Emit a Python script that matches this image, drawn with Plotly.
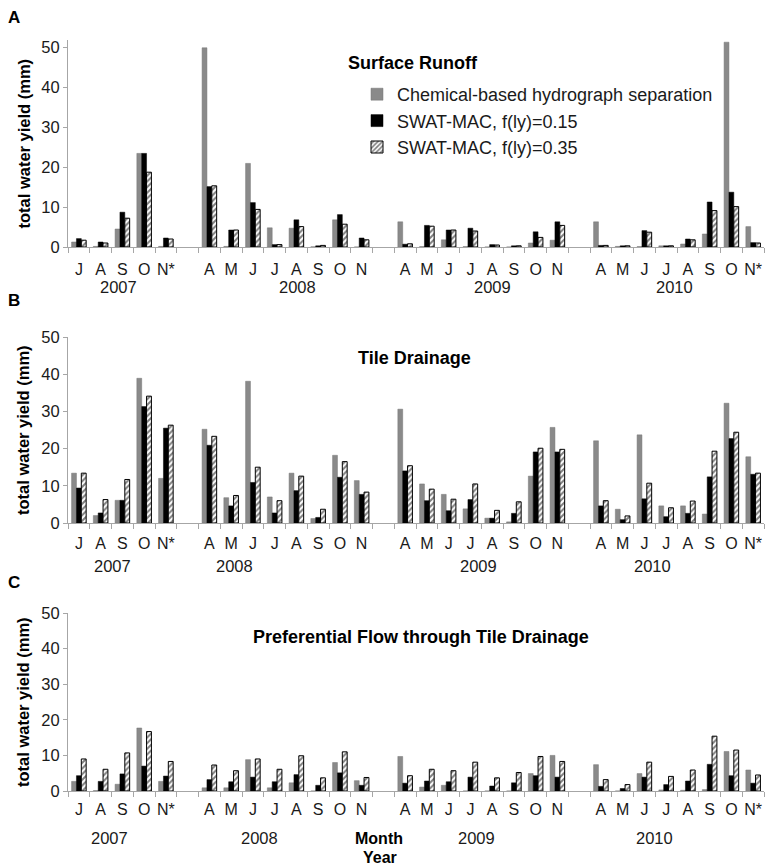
import plotly.graph_objects as go

W, H = 765, 865

years = ["2007", "2008", "2009", "2010"]
months_by_year = [
    ["J", "A", "S", "O", "N*"],
    ["A", "M", "J", "J", "A", "S", "O", "N"],
    ["A", "M", "J", "J", "A", "S", "O", "N"],
    ["A", "M", "J", "J", "A", "S", "O", "N*"],
]

series_names = [
    "Chemical-based hydrograph separation",
    "SWAT-MAC, f(ly)=0.15",
    "SWAT-MAC, f(ly)=0.35",
]

# Panel A: Surface Runoff
chem_A = [1.25, 0.15, 4.5, 23.4, 0.15,
          49.8, 0.15, 20.9, 4.8, 4.7, 0.05, 6.8, 0.0,
          6.3, 0.1, 1.8, 0.1, 0.0, 0.0, 1.0, 1.7,
          6.3, 0.15, 0.1, 0.3, 0.75, 3.25, 51.2, 5.1]
swat15_A = [2.1, 1.25, 8.7, 23.4, 2.25,
            15.1, 4.25, 11.1, 0.6, 6.8, 0.3, 8.1, 2.25,
            0.7, 5.4, 4.25, 4.7, 0.6, 0.3, 3.8, 6.3,
            0.4, 0.3, 4.1, 0.3, 2.0, 11.25, 13.7, 1.1]
swat35_A = [1.7, 1.0, 7.2, 18.7, 2.0,
            15.3, 4.25, 9.4, 0.6, 5.1, 0.4, 5.7, 1.8,
            0.8, 5.2, 4.25, 4.0, 0.5, 0.3, 2.4, 5.4,
            0.4, 0.3, 3.7, 0.3, 1.8, 9.1, 10.1, 1.0]

# Panel B: Tile Drainage
chem_B = [13.4, 2.0, 6.1, 38.9, 12.0,
          25.2, 6.8, 38.1, 7.0, 13.4, 1.2, 18.2, 11.4,
          30.6, 10.5, 7.7, 3.8, 1.3, 0.3, 12.6, 25.7,
          22.1, 3.7, 23.7, 4.6, 4.6, 2.4, 32.2, 17.8]
swat15_B = [9.4, 2.7, 6.1, 31.3, 25.5,
            20.9, 4.6, 10.9, 2.7, 8.7, 1.5, 12.3, 7.7,
            14.0, 6.0, 3.3, 6.3, 1.3, 2.6, 19.1, 19.1,
            4.6, 0.9, 6.5, 1.7, 2.6, 12.4, 22.7, 13.1]
swat35_B = [13.4, 6.3, 11.7, 34.1, 26.3,
            23.3, 7.4, 15.0, 6.0, 12.6, 3.7, 16.5, 8.3,
            15.4, 9.1, 6.4, 10.5, 3.4, 5.7, 20.1, 19.8,
            6.0, 1.9, 10.7, 4.1, 5.9, 19.3, 24.4, 13.4]

# Panel C: Preferential Flow through Tile Drainage
chem_C = [2.7, 0.1, 1.9, 17.7, 2.7,
          0.9, 0.9, 8.8, 0.9, 2.3, 0.0, 8.0, 2.9,
          9.7, 1.1, 1.6, 0.0, 0.0, 0.0, 4.9, 10.0,
          7.4, 0.0, 4.9, 0.3, 0.2, 0.4, 11.1, 5.9]
swat15_C = [4.3, 2.7, 4.8, 7.0, 4.2,
            3.2, 2.6, 3.9, 2.6, 4.6, 1.6, 5.1, 1.6,
            2.2, 2.8, 2.6, 3.9, 1.4, 2.3, 4.3, 3.9,
            1.3, 0.7, 3.9, 1.8, 2.8, 7.5, 4.3, 2.2]
swat35_C = [9.0, 6.1, 10.7, 16.7, 8.3,
            7.3, 5.7, 9.0, 6.1, 9.9, 3.7, 11.0, 3.8,
            4.3, 6.1, 5.7, 8.1, 3.7, 5.2, 9.7, 8.3,
            3.2, 1.8, 8.1, 4.1, 5.9, 15.4, 11.5, 4.5]

panel_titles = ["Surface Runoff", "Tile Drainage",
                "Preferential Flow through Tile Drainage"]
panel_letters = ["A", "B", "C"]

# ---- build category slots (with an empty slot between years) ----
slots, slot_text, data_slots = [], [], []
for yi, (yr, ms) in enumerate(zip(years, months_by_year)):
    for mi, m in enumerate(ms):
        key = f"{yr}-{mi}"
        slots.append(key)
        slot_text.append(m)
        data_slots.append(key)
    if yi < len(years) - 1:
        slots.append(f"gap{yi}")
        slot_text.append("")

FONT = "Liberation Sans, Arial, sans-serif"
GRAY = "#8a8a8a"
AXC = "#a6a6a6"

def px_x(x):
    return x / W

def px_y(y):
    return 1 - y / H

# pixel layout of each panel's plot area (top, bottom)
panel_px = [(40, 247), (337, 523), (613, 791)]
y_ranges = [[0, 51.75], [0, 50], [0, 50]]
label_standoff = [8, 6, 4]
x_left, x_right = 68, 764

fig = go.Figure()
panels = [
    (chem_A, swat15_A, swat35_A),
    (chem_B, swat15_B, swat35_B),
    (chem_C, swat15_C, swat35_C),
]

for p, (g, b, h) in enumerate(panels):
    xa = "x" if p == 0 else f"x{p+1}"
    ya = "y" if p == 0 else f"y{p+1}"
    show = p == 0
    fig.add_trace(go.Bar(x=data_slots, y=g, name=series_names[0], xaxis=xa, yaxis=ya,
                         marker=dict(color=GRAY, line=dict(color="#777777", width=0.5)),
                         showlegend=show, legendgroup="g0"))
    fig.add_trace(go.Bar(x=data_slots, y=b, name=series_names[1], xaxis=xa, yaxis=ya,
                         marker=dict(color="black", line=dict(color="black", width=0.5)),
                         showlegend=show, legendgroup="g1"))
    fig.add_trace(go.Bar(x=data_slots, y=h, name=series_names[2], xaxis=xa, yaxis=ya,
                         marker=dict(color="white", line=dict(color="black", width=1),
                                     pattern=dict(shape="/", fgcolor="black", bgcolor="white",
                                                  size=4, solidity=0.5)),
                         showlegend=show, legendgroup="g2"))

layout = dict(
    width=W, height=H,
    margin=dict(l=0, r=0, t=0, b=0, pad=0, autoexpand=False),
    paper_bgcolor="white", plot_bgcolor="white",
    barmode="group", bargap=0.33, bargroupgap=0,
    font=dict(family=FONT, color="#1a1a1a", size=16),
    showlegend=True,
    legend=dict(x=px_x(357), y=px_y(76), xanchor="left", yanchor="top",
                font=dict(size=18, family=FONT, color="#1a1a1a"),
                bgcolor="rgba(0,0,0,0)", traceorder="grouped", tracegroupgap=0,
                itemwidth=30),
)

for p in range(3):
    top, bot = panel_px[p]
    xk = "xaxis" if p == 0 else f"xaxis{p+1}"
    yk = "yaxis" if p == 0 else f"yaxis{p+1}"
    ya = "y" if p == 0 else f"y{p+1}"
    xa = "x" if p == 0 else f"x{p+1}"
    layout[xk] = dict(
        domain=[px_x(x_left), px_x(x_right)], anchor=ya, automargin=False,
        type="category", categoryorder="array", categoryarray=slots,
        tickmode="array", tickvals=slots, ticktext=slot_text,
        tickson="boundaries", ticks="outside", ticklen=5, tickcolor=AXC,
        ticklabelstandoff=label_standoff[p],
        showline=True, linecolor=AXC, linewidth=1,
        range=[-0.5, len(slots) - 0.5], tickangle=0,
        tickfont=dict(size=16, family=FONT, color="#1a1a1a"),
        showgrid=False, zeroline=False, fixedrange=True,
    )
    layout[yk] = dict(
        domain=[px_y(bot), px_y(top)], anchor=xa, automargin=False,
        range=y_ranges[p], dtick=10, tick0=0,
        ticks="outside", ticklen=4, tickcolor=AXC,
        showline=True, linecolor=AXC, linewidth=1,
        tickfont=dict(size=16.5, family=FONT, color="#1a1a1a"),
        showgrid=False, zeroline=False, fixedrange=True,
    )

fig.update_layout(**layout)

ann = []
# panel letters
for letter, yy in zip(panel_letters, [17, 300, 582]):
    ann.append(dict(text=f"<b>{letter}</b>", x=px_x(14), y=px_y(yy), xref="paper", yref="paper",
                    showarrow=False, xanchor="center", yanchor="middle",
                    font=dict(size=17, family=FONT, color="black")))
# panel titles
for t, (cx, cy) in zip(panel_titles, [(413, 63), (415, 358), (421, 637)]):
    ann.append(dict(text=f"<b>{t}</b>", x=px_x(cx), y=px_y(cy), xref="paper", yref="paper",
                    showarrow=False, xanchor="center", yanchor="middle",
                    font=dict(size=18, family=FONT, color="black")))
# y axis titles
for top, bot in panel_px:
    ann.append(dict(text="<b>total water yield (mm)</b>", x=px_x(23), y=px_y((top + bot) / 2),
                    xref="paper", yref="paper", showarrow=False, textangle=-90,
                    xanchor="center", yanchor="middle",
                    font=dict(size=16.5, family=FONT, color="black")))
# year labels
year_pos = [
    (287, [118, 297, 492, 674]),
    (566, [112, 234, 478, 652]),
    (838, [110, 259, 476, 654]),
]
for yy, xs in year_pos:
    for yr, xx in zip(years, xs):
        ann.append(dict(text=yr, x=px_x(xx), y=px_y(yy), xref="paper", yref="paper",
                        showarrow=False, xanchor="center", yanchor="middle",
                        font=dict(size=16.5, family=FONT, color="#1a1a1a")))
ann.append(dict(text="<b>Month</b>", x=px_x(379), y=px_y(838), xref="paper", yref="paper",
                showarrow=False, xanchor="center", yanchor="middle",
                font=dict(size=16, family=FONT, color="black")))
ann.append(dict(text="<b>Year</b>", x=px_x(380), y=px_y(857), xref="paper", yref="paper",
                showarrow=False, xanchor="center", yanchor="middle",
                font=dict(size=16, family=FONT, color="black")))

fig.update_layout(annotations=ann)
fig.write_html(
    "out.html",
    config={"displayModeBar": False},
    post_script="document.body.style.margin='0px';document.body.style.overflow='hidden';",
)
